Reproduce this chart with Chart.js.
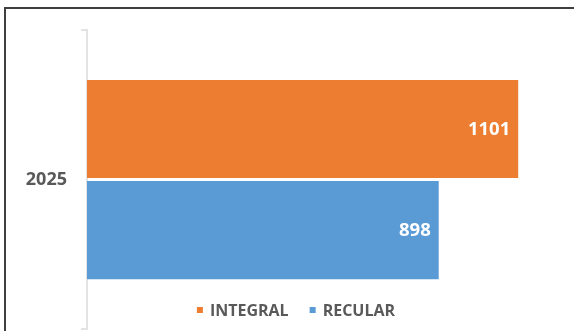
<!DOCTYPE html>
<html>
<head>
<meta charset="utf-8">
<script src="https://cdn.jsdelivr.net/npm/chart.js@4/dist/chart.umd.min.js"></script>
<style>
  body { margin: 0; background: #fff; }
  .wrap { position: relative; width: 574px; height: 331px; overflow: hidden; }
  .frame { position: absolute; left: 4px; top: 7px; right: -4px; bottom: -4px;
           border-left: 2px solid #3f3f3f; border-top: 2px solid #3f3f3f; }
  canvas { position: absolute; left: 0; top: 0; }
</style>
</head>
<body>
<div class="wrap">
  <div class="frame"></div>
  <!-- el lienzo es más alto que el marco: la parte sobrante queda recortada -->
  <canvas id="grafico" width="574" height="354"></canvas>
</div>
<script>
const categorias = ['2025'];
const series = ['INTEGRAL', 'RECULAR'];
const valoresIntegral = [1101];
const valoresRecular = [898];
const colores = ['#ED7D31', '#5B9BD5'];

const FUENTE = "'Open Sans', 'Liberation Sans', sans-serif";

// etiquetas blancas dentro del extremo de cada barra
const etiquetasValor = {
  id: 'etiquetasValor',
  afterDatasetsDraw(chart) {
    const ctx = chart.ctx;
    ctx.save();
    ctx.font = `bold 18.5px ${FUENTE}`;
    ctx.fillStyle = '#ffffff';
    ctx.textAlign = 'right';
    ctx.textBaseline = 'middle';
    chart.data.datasets.forEach((ds, i) => {
      chart.getDatasetMeta(i).data.forEach((bar, j) => {
        ctx.fillText(String(ds.data[j]), bar.x - 8, bar.y + 1);
      });
    });
    ctx.restore();
  }
};

// leyenda abajo, dentro del área del gráfico
const leyenda = {
  id: 'leyenda',
  afterDraw(chart) {
    const ctx = chart.ctx;
    ctx.save();
    ctx.font = `bold 16px ${FUENTE}`;
    ctx.textBaseline = 'middle';
    const caja = 6, sep = 7, entre = 21;
    const items = chart.data.datasets.map(ds => ({
      texto: ds.label, color: ds.backgroundColor, ancho: ctx.measureText(ds.label).width
    }));
    const total = items.reduce((a, it) => a + caja + sep + it.ancho, 0) + entre * (items.length - 1);
    let x = 296 - total / 2;
    const y = 310;
    items.forEach(it => {
      ctx.fillStyle = it.color;
      ctx.fillRect(x, y - 3, caja, caja);
      x += caja + sep;
      ctx.fillStyle = '#595959';
      ctx.textAlign = 'left';
      ctx.fillText(it.texto, x, y + 1);
      x += it.ancho + entre;
    });
    ctx.restore();
  }
};

new Chart(document.getElementById('grafico'), {
  type: 'bar',
  data: {
    labels: categorias,
    datasets: [
      { label: series[0], data: valoresIntegral, backgroundColor: colores[0] },
      { label: series[1], data: valoresRecular, backgroundColor: colores[1] }
    ]
  },
  options: {
    indexAxis: 'y',
    responsive: false,
    animation: false,
    layout: { padding: { top: 30, bottom: 2, left: 0, right: 17 } },
    datasets: { bar: { categoryPercentage: 0.676, barPercentage: 0.97 } },
    scales: {
      x: { display: false, min: 0, max: 1200 },
      y: {
        afterFit(scale) { scale.width = 87; },
        grid: { drawOnChartArea: false, drawTicks: true, tickLength: 6, color: '#e3e3e3', lineWidth: 2 },
        border: { display: true, color: '#e3e3e3', width: 2 },
        ticks: { padding: 14, color: '#595959', font: { family: FUENTE, size: 18, weight: 'bold' } }
      }
    },
    plugins: {
      legend: { display: false },
      tooltip: { enabled: false }
    }
  },
  plugins: [etiquetasValor, leyenda]
});
</script>
</body>
</html>
